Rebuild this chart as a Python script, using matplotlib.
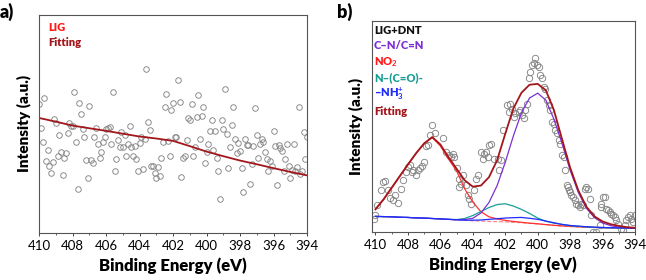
import numpy as np
import matplotlib
matplotlib.use("Agg")
import matplotlib.pyplot as plt
from matplotlib.ticker import MultipleLocator

plt.rcParams['font.family'] = ['Lato', 'DejaVu Sans']
plt.rcParams['mathtext.fontset'] = 'custom'
plt.rcParams['mathtext.rm'] = 'Lato'
plt.rcParams['mathtext.bf'] = 'Lato:bold'
plt.rcParams['mathtext.it'] = 'Lato:italic'

# ---- panel a: LIG (N 1s), raw points every 0.1 eV from 410 to 394 ----
lig_counts = [59.1, 47.9, 41.9, 62.0, 33.1, 38.1, 30.5, 27.7, 32.5, 52.1,
              50.6, 35.1, 44.7, 37.0, 26.4, 34.3, 36.6, 46.0, 50.6, 49.1,
              49.1, 64.8, 41.5, 20.1, 59.8, 54.6, 47.6, 43.8, 33.5, 25.3,
              58.2, 33.5, 32.0, 43.8, 48.2, 40.7, 34.3, 37.2, 41.5, 43.8,
              47.6, 48.0, 48.5, 40.9, 64.5, 28.2, 34.0, 42.7, 39.6, 46.5,
              39.6, 45.0, 35.4, 40.7, 49.1, 39.2, 35.5, 39.9, 34.0, 28.2,
              41.2, 43.8, 29.4, 43.0, 75.3, 51.1, 47.0, 30.5, 30.8, 27.6,
              25.2, 30.3, 26.2, 34.3, 41.8, 57.9, 63.9, 42.2, 35.5, 56.3,
              59.5, 43.9, 43.9, 70.1, 60.2, 25.5, 34.3, 35.4, 42.7, 52.6,
              51.8, 59.1, 35.5, 39.6, 53.0, 63.3, 43.0, 53.4, 57.8, 32.3,
              37.3, 40.9, 46.8, 51.8, 38.1, 46.8, 34.3, 28.4, 15.5, 51.8,
              47.6, 65.9, 45.3, 29.6, 39.2, 49.5, 57.9, 43.0, 36.6, 41.2,
              37.8, 29.7, 18.6, 43.1, 40.2, 40.2, 22.4, 31.7, 39.9, 57.2,
              45.0, 34.3, 40.7, 43.0, 41.5, 36.9, 33.7, 28.4, 33.2, 30.8,
              46.8, 39.8, 22.1, 40.1, 38.9, 37.7, 28.4, 33.8, 41.0, 30.5,
              25.2, 29.0, 41.0, 28.5, 30.2, 57.6, 27.0, 28.4, 46.3, 34.1,
              43.8]
lig_energy = np.linspace(410, 394, len(lig_counts))

lig_fit_energy = [410, 409, 408, 407, 406, 405, 404, 403, 402, 401, 400,
                  399, 398, 397, 396, 395, 394]
lig_fit = [52.7, 51.0, 49.2, 48.0, 46.8, 45.5, 44.2, 43.3, 42.2, 39.8, 37.3,
           35.2, 33.2, 31.5, 29.7, 28.0, 26.4]

# ---- panel b: LIG+DNT ----
dnt_energy = [410.02, 410.08, 409.88, 409.65, 409.55, 409.40, 409.20, 409.10,
              408.93, 408.79, 408.64, 408.44, 408.28, 408.11, 407.97, 407.86,
              407.76, 407.66, 407.52, 407.39, 407.25, 407.10, 407.00, 406.88,
              406.78, 406.63, 406.51, 406.30,
              405.85, 405.65, 405.48, 405.34, 405.24, 405.13, 404.99, 404.83,
              404.72, 404.87, 404.62, 404.41, 404.31, 404.21, 404.11, 403.90,
              403.80, 403.70, 403.49, 403.39, 403.29, 403.18, 403.08, 402.98,
              402.87, 402.67, 402.46, 402.36, 402.26, 402.16,
              401.89, 401.68, 401.79, 401.58, 401.48, 401.38, 401.17, 401.07,
              400.97, 400.86, 400.76, 400.66, 400.55, 400.45, 400.35, 400.25,
              400.14, 400.04, 399.94, 399.84, 399.73, 399.63, 399.53, 399.43,
              399.32, 399.22, 399.12, 399.01, 398.91, 398.81, 398.71, 398.60,
              398.50, 398.40, 398.30, 398.19, 398.09,
              398.13, 398.03, 397.93, 397.82, 397.72, 397.62, 397.52, 397.41,
              397.31, 397.21, 397.10, 397.00, 396.90, 396.80, 396.69, 396.59,
              396.39, 396.18, 396.08, 395.98, 395.87, 396.08, 395.77, 395.67,
              395.56, 395.46, 395.36, 395.26, 395.15, 395.05, 394.85, 394.74,
              394.64, 394.54, 394.44, 394.33, 394.23, 394.13, 394.02]
dnt_counts = [8.2, 6.0, 12.7, 19.8, 23.7, 24.1, 19.8, 16.1,
              15.0, 17.4, 13.9, 20.6, 24.5, 28.5, 30.9, 31.6,
              28.5, 29.3, 27.2, 29.3, 30.4, 31.2, 33.2, 40.8,
              41.1, 46.2, 50.6, 47.0,
              44.6, 38.0, 36.4, 35.6, 37.2, 35.6, 30.1, 25.3,
              22.9, 21.4, 26.9, 22.2, 17.4, 15.8, 13.4, 19.8,
              25.3, 26.9, 38.0, 34.8, 37.2, 38.0, 35.6, 41.1,
              41.9, 34.8, 34.8, 29.3, 34.0, 48.3,
              60.1, 60.9, 57.0, 58.5, 54.6, 56.2, 57.0, 57.8,
              55.4, 53.8, 57.8, 60.9, 72.8, 75.9, 79.1, 79.9,
              82.3, 79.1, 78.3, 74.4, 72.8, 68.8, 68.0, 62.5,
              60.1, 57.8, 52.2, 51.4, 48.3, 46.7, 43.5, 41.9,
              36.4, 35.6, 29.3, 22.2, 19.8,
              21.4, 19.0, 17.4, 16.6, 15.0, 13.4, 12.7, 11.9,
              13.4, 12.7, 20.6, 21.4, 20.6, 15.8, 7.9, 0.0,
              0.0, 3.2, 11.9, 16.6, 16.6, 13.4, 11.1, 10.3,
              9.5, 8.7, 7.9, 7.1, 5.5, 4.0, 1.6, 0.8,
              3.5, 5.5, 7.1, 7.9, 6.3, 4.7, 7.9]

# fitted envelopes, read every 0.5 eV from 410 to 394
comp_energy = [410.0, 409.5, 409.0, 408.5, 408.0, 407.5, 407.0, 406.5, 406.0,
               405.5, 405.0, 404.5, 404.0, 403.5, 403.0, 402.5, 402.0, 401.5,
               401.0, 400.5, 400.0, 399.5, 399.0, 398.5, 398.0, 397.5, 397.0,
               396.5, 396.0, 395.5, 395.0, 394.5, 394.0]
background = [7.4, 7.3, 7.2, 7.0, 6.9, 6.7, 6.6, 6.4, 6.2,
              6.0, 5.7, 5.5, 5.3, 5.2, 5.0, 4.9, 4.8, 4.6,
              4.4, 4.1, 3.8, 3.5, 3.1, 2.8, 2.55, 2.35, 2.2,
              2.1, 2.0, 1.95, 1.9, 1.85, 1.8]
cn_fit = [7.4, 7.3, 7.2, 7.0, 6.9, 6.7, 6.6, 6.4, 6.2,
          6.0, 5.8, 5.9, 6.5, 9.0, 14.0, 22.0, 33.0, 45.5,
          56.5, 63.5, 65.8, 62.5, 53.5, 42.0, 29.3, 18.8, 11.3,
          6.8, 4.3, 3.0, 2.3, 2.0, 1.85]
no2_fit = [10.6, 15.3, 20.8, 26.3, 31.8, 37.2, 41.8, 44.8, 40.8,
           34.6, 29.0, 20.5, 14.2, 9.6, 7.2, 6.2, 5.5, 5.0,
           4.6, 4.2, 3.9, 3.5, 3.2, 2.9, 2.7, 2.5, 2.35,
           2.2, 2.1, 2.0, 1.9, 1.85, 1.8]
amide_fit = [7.4, 7.3, 7.2, 7.0, 6.9, 6.7, 6.6, 6.4, 6.2,
             6.0, 5.9, 6.4, 7.8, 9.7, 11.6, 13.0, 13.4, 12.3,
             10.7, 8.8, 6.6, 5.1, 4.2, 3.6, 3.0, 2.7, 2.4,
             2.2, 2.0, 1.95, 1.9, 1.85, 1.8]
nh3_fit = [7.4, 7.3, 7.2, 7.0, 6.9, 6.7, 6.6, 6.4, 6.2,
           6.0, 5.8, 5.6, 5.6, 5.7, 6.0, 6.3, 6.6, 6.8,
           6.9, 6.5, 6.0, 5.2, 4.4, 3.6, 3.1, 2.8, 2.5,
           2.3, 2.15, 2.05, 1.95, 1.9, 1.85]
dnt_fit = [10.8, 15.5, 21.0, 26.5, 32.0, 37.3, 42.0, 45.0, 41.5,
           35.5, 30.0, 24.5, 21.5, 22.0, 26.0, 34.0, 46.5, 58.5,
           66.0, 69.8, 70.2, 67.2, 57.8, 44.0, 30.5, 19.8, 12.0,
           7.4, 5.0, 3.7, 2.9, 2.3, 2.0]

FIT_RED = '#a3161c'
circle = dict(ls='none', marker='o', mfc='none', mec='#858585')

fig = plt.figure(figsize=(6.46, 2.80), dpi=100)
ax1 = fig.add_axes([0.0608, 0.168, 0.4144, 0.779])
ax2 = fig.add_axes([0.5754, 0.1714, 0.4076, 0.7536])

# panel a
ax1.plot(lig_energy, lig_counts, ms=4.0, mew=0.65, **circle)
ax1.plot(lig_fit_energy, lig_fit, color=FIT_RED, lw=1.3)
ax1.set_xlim(410, 394)
ax1.set_ylim(0, 100)
ax1.text(0.035, 0.94, 'LIG', color='#ff1a1a', fontsize=8, fontweight='heavy',
         va='center', transform=ax1.transAxes)
ax1.text(0.035, 0.872, 'Fitting', color=FIT_RED, fontsize=8, fontweight='heavy',
         va='center', transform=ax1.transAxes)

# panel b
ax2.plot(dnt_energy, dnt_counts, ms=4.6, mew=0.65, **circle)
ax2.plot(comp_energy, background, color='#ff8080', lw=0.8, ls='--')
ax2.plot(comp_energy, no2_fit, color='#ff3030', lw=0.9)
ax2.plot(comp_energy, amide_fit, color='#1a9e96', lw=0.9)
ax2.plot(comp_energy, cn_fit, color='#7d2fd6', lw=0.9)
ax2.plot(comp_energy, nh3_fit, color='#1f2bff', lw=0.9)
ax2.plot(comp_energy, dnt_fit, color=FIT_RED, lw=1.3)
ax2.set_xlim(410.23, 394)
ax2.set_ylim(0, 100)

legend_b = [('LIG+DNT', '#111111'),
            ('C–N/C=N', '#7d2fd6'),
            (r'NO$_\mathbf{2}$', '#ff1a1a'),
            ('N–(C=O)-', '#1a9e96'),
            (r'–NH$_\mathbf{3}^\mathbf{+}$', '#1f2bff'),
            ('Fitting', FIT_RED)]
ys = [0.957, 0.882, 0.807, 0.731, 0.654, 0.570]
for (txt, col), yy in zip(legend_b, ys):
    ax2.text(0.008, yy, txt, color=col, fontsize=8, fontweight='heavy',
             va='center', transform=ax2.transAxes)

for ax in (ax1, ax2):
    ax.set_yticks([])
    ax.xaxis.set_major_locator(MultipleLocator(2))
    ax.xaxis.set_minor_locator(MultipleLocator(1))
    ax.tick_params(axis='x', which='major', direction='out', length=2.5,
                   width=0.7, labelsize=9.5, pad=2.5, color='#444444')
    ax.tick_params(axis='x', which='minor', direction='out', length=1.5,
                   width=0.6, color='#444444')
    for sp in ax.spines.values():
        sp.set_color('#555555')
        sp.set_linewidth(0.8)
    ax.set_xlabel('Binding Energy (eV)', fontsize=12, fontweight='heavy',
                  labelpad=4)
    ax.set_ylabel('Intensity (a.u.)', fontsize=11, fontweight='heavy',
                  labelpad=6)

fig.text(0.0, 0.99, 'a)', fontsize=13, fontweight='heavy', va='top')
fig.text(0.521, 0.99, 'b)', fontsize=13, fontweight='heavy', va='top')

fig.savefig('out.png', dpi=100)
